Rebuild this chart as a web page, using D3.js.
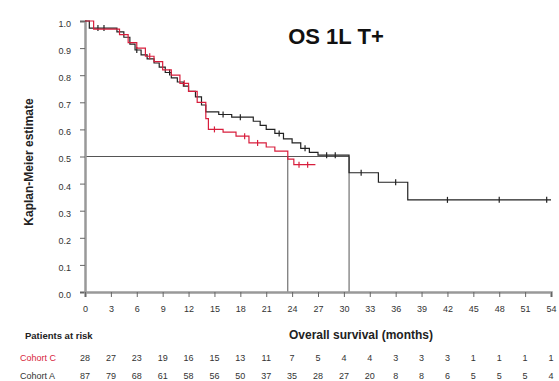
<!DOCTYPE html>
<html>
<head>
<meta charset="utf-8">
<script src="https://cdn.jsdelivr.net/npm/d3@7"></script>
<style>
  html, body { margin: 0; padding: 0; background: #fff; }
  svg { display: block; font-family: Arial, "Liberation Sans", sans-serif; }
</style>
</head>
<body>
<svg id="chart" width="559" height="381"></svg>
<script>
// Kaplan-Meier steps: [month, survival] at each event
const timesA = [0, 0.5, 3.7, 4.5, 5.2, 5.8, 6.5, 7.2, 8.0, 8.6, 9.3, 10.0, 10.7, 11.4, 12.0, 12.8, 13.5, 14.0, 15.5, 17.0, 19.5, 20.3, 21.0, 22.0, 23.0, 24.0, 25.0, 26.0, 27.0, 30.6, 34.0, 37.4, 54];
const survA = [1.0, 0.974, 0.96, 0.94, 0.915, 0.893, 0.875, 0.86, 0.845, 0.83, 0.81, 0.79, 0.775, 0.76, 0.74, 0.72, 0.69, 0.665, 0.655, 0.645, 0.63, 0.615, 0.60, 0.585, 0.565, 0.55, 0.53, 0.515, 0.505, 0.44, 0.405, 0.34, 0.34];
const censorA = [1.5, 2.2, 6.0, 9.8, 16.0, 18.0, 22.5, 25.5, 28.0, 29.0, 32.0, 36.0, 42.0, 48.0, 53.5];

const timesC = [0, 1.0, 4.0, 5.0, 6.0, 7.0, 8.0, 9.0, 10.0, 11.0, 12.0, 13.0, 14.0, 14.3, 16.0, 17.5, 19.0, 21.0, 22.0, 23.5, 24.2, 26.7];
const survC = [1.0, 0.97, 0.95, 0.92, 0.90, 0.87, 0.85, 0.82, 0.80, 0.77, 0.74, 0.70, 0.64, 0.60, 0.59, 0.575, 0.55, 0.535, 0.52, 0.49, 0.47, 0.47];
const censorC = [7.5, 11.5, 15.0, 18.5, 20.0, 24.8, 25.8];

const medianA = 30.6;
const medianC = 23.5;

const xTicks = [0, 3, 6, 9, 12, 15, 18, 21, 24, 27, 30, 33, 36, 39, 42, 45, 48, 51, 54];
const yTicks = [0, 0.1, 0.2, 0.3, 0.4, 0.5, 0.6, 0.7, 0.8, 0.9, 1.0];

const riskLabels = ["Cohort C", "Cohort A"];
const riskC = [28, 27, 23, 19, 16, 15, 13, 11, 7, 5, 4, 4, 3, 3, 3, 1, 1, 1, 1];
const riskA = [87, 79, 68, 61, 58, 56, 50, 37, 35, 28, 27, 20, 8, 8, 6, 5, 5, 5, 4];

const colorA = "#222";
const colorC = "#d81e3c";

const svg = d3.select("#chart");
const x = d3.scaleLinear().domain([0, 54]).range([85, 551]);
const y = d3.scaleLinear().domain([0, 1]).range([292, 21]);

// title
svg.append("text")
  .attr("x", 336).attr("y", 44)
  .attr("text-anchor", "middle")
  .attr("font-size", 22).attr("font-weight", "bold")
  .attr("fill", "#111")
  .text("OS 1L T+");

// median reference lines
const ref = svg.append("g").attr("stroke", "#555").attr("stroke-width", 1).attr("fill", "none");
ref.append("line").attr("x1", x(0)).attr("x2", x(medianA)).attr("y1", y(0.5)).attr("y2", y(0.5));
ref.append("line").attr("x1", x(medianC)).attr("x2", x(medianC)).attr("y1", y(0.5)).attr("y2", y(0));
ref.append("line").attr("x1", x(medianA)).attr("x2", x(medianA)).attr("y1", y(0.5)).attr("y2", y(0));

// axes
const yAxis = svg.append("g")
  .attr("transform", `translate(${x(0)},0)`)
  .call(d3.axisLeft(y).tickValues(yTicks).tickFormat(d3.format(".1f")).tickSize(5).tickPadding(9));
const xAxis = svg.append("g")
  .attr("transform", `translate(0,${y(0)})`)
  .call(d3.axisBottom(x).tickValues(xTicks).tickFormat(d3.format("d")).tickSize(5).tickPadding(9));
[yAxis, xAxis].forEach(g => {
  g.select(".domain").attr("stroke", "#999").attr("stroke-width", 2.5);
  g.selectAll(".tick line").attr("stroke", "#666");
  g.selectAll(".tick text").attr("font-size", 9).attr("fill", "#333").attr("font-family", "Arial, sans-serif");
});
yAxis.selectAll(".tick text").attr("dy", "0.6em");

// survival curves
const step = d3.line().x(d => x(d[0])).y(d => y(d[1])).curve(d3.curveStepAfter);
function drawCurve(times, surv, censor, color) {
  const pts = times.map((t, i) => [t, surv[i]]);
  svg.append("path").datum(pts)
    .attr("d", step).attr("fill", "none")
    .attr("stroke", color).attr("stroke-width", 1.2);
  const at = t => { let s = surv[0]; times.forEach((tt, i) => { if (tt <= t) s = surv[i]; }); return s; };
  svg.append("g").selectAll("line").data(censor).join("line")
    .attr("x1", d => x(d)).attr("x2", d => x(d))
    .attr("y1", d => y(at(d)) - 3).attr("y2", d => y(at(d)) + 3)
    .attr("stroke", color).attr("stroke-width", 1.2);
}
drawCurve(timesA, survA, censorA, colorA);
drawCurve(timesC, survC, censorC, colorC);

// axis titles
svg.append("text")
  .attr("transform", "translate(33,162) rotate(-90)")
  .attr("text-anchor", "middle")
  .attr("font-size", 12).attr("font-weight", "bold").attr("fill", "#222")
  .text("Kaplan-Meier estimate");
svg.append("text")
  .attr("x", 361).attr("y", 339)
  .attr("text-anchor", "middle")
  .attr("font-size", 12).attr("font-weight", "bold").attr("fill", "#222")
  .text("Overall survival (months)");

// numbers at risk
svg.append("text")
  .attr("x", 25).attr("y", 339)
  .attr("font-size", 9.5).attr("font-weight", "bold").attr("fill", "#222")
  .text("Patients at risk");
const rows = [riskC, riskA];
const rowY = [361, 379];
const rowColor = [colorC, "#333"];
rows.forEach((vals, r) => {
  svg.append("text")
    .attr("x", 20).attr("y", rowY[r])
    .attr("font-size", 9).attr("fill", rowColor[r])
    .text(riskLabels[r]);
  svg.append("g").selectAll("text").data(vals).join("text")
    .attr("x", (d, i) => x(xTicks[i]))
    .attr("y", rowY[r])
    .attr("text-anchor", "middle")
    .attr("font-size", 9).attr("fill", "#333")
    .text(d => d);
});
</script>
</body>
</html>
